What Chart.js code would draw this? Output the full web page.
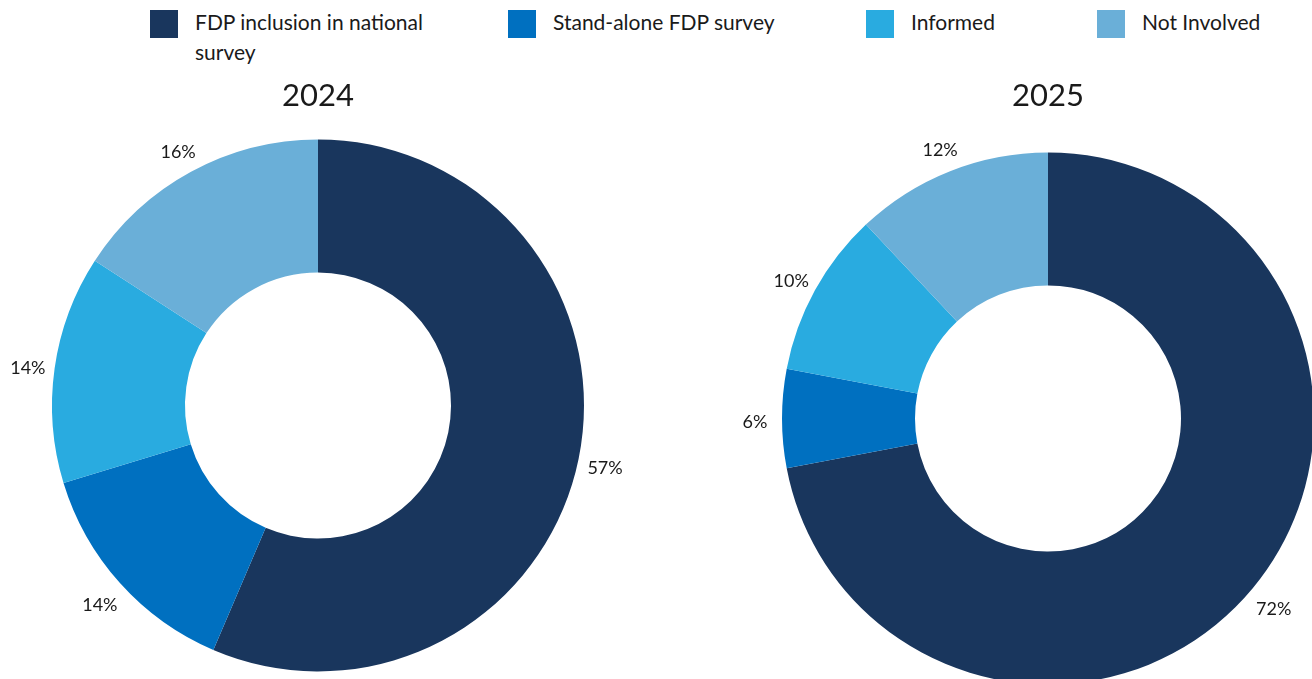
<!DOCTYPE html>
<html>
<head>
<meta charset="utf-8">
<script src="https://cdn.jsdelivr.net/npm/chart.js@4/dist/chart.umd.min.js"></script>
<style>
  html, body { margin: 0; padding: 0; background: #fff; }
  body { width: 1312px; height: 679px; position: relative; overflow: hidden; font-family: Lato, sans-serif; }
  .legend-item { position: absolute; top: 10px; }
  .legend-item .box { position: absolute; left: 0; top: 0; width: 28px; height: 28px; }
  .legend-item .txt { position: absolute; left: 45px; top: -3px; font-size: 21px; line-height: 30px; color: #1a1a1a; }
  .chart-box { position: absolute; top: 0; width: 636px; }
</style>
</head>
<body>
<div id="legend"></div>
<div class="chart-box" style="left:0;height:679px"><canvas id="chart2024"></canvas></div>
<div class="chart-box" style="left:730px;height:700px"><canvas id="chart2025"></canvas></div>
<script>
  const categories = ['FDP inclusion in national survey', 'Stand-alone FDP survey', 'Informed', 'Not Involved'];
  const colors = ['#19365d', '#0070c0', '#29abe0', '#6aafd8'];
  const values2024 = [57, 14, 14, 16];
  const values2025 = [72, 6, 10, 12];

  // html legend shared by both charts
  const legendX = [150, 508, 866, 1097];
  const legendWidth = [250, 300, 200, 200];
  const legend = document.getElementById('legend');
  categories.forEach(function(name, i) {
    const item = document.createElement('div');
    item.className = 'legend-item';
    item.style.left = legendX[i] + 'px';
    item.innerHTML = '<div class="box" style="background:' + colors[i] + '"></div>' +
      '<div class="txt" style="width:' + legendWidth[i] + 'px">' + name + '</div>';
    legend.appendChild(item);
  });

  // percentage labels outside the ring
  const outsideLabels = {
    id: 'outsideLabels',
    afterDatasetsDraw(chart) {
      const ctx = chart.ctx;
      const meta = chart.getDatasetMeta(0);
      const data = chart.data.datasets[0].data;
      ctx.save();
      ctx.font = '18px Lato, sans-serif';
      ctx.fillStyle = '#1a1a1a';
      ctx.textAlign = 'center';
      ctx.textBaseline = 'middle';
      meta.data.forEach(function(arc, i) {
        const mid = (arc.startAngle + arc.endAngle) / 2;
        const r = arc.outerRadius + 27;
        ctx.fillText(data[i] + '%', arc.x + Math.cos(mid) * r, arc.y + Math.sin(mid) * r + 4);
      });
      ctx.restore();
    }
  };

  function makeChart(id, year, values, titleBottom, padBottom) {
    return new Chart(document.getElementById(id), {
      type: 'doughnut',
      data: {
        labels: categories,
        datasets: [{ data: values, backgroundColor: colors, borderWidth: 0, hoverOffset: 0 }]
      },
      options: {
        responsive: true,
        maintainAspectRatio: false,
        animation: false,
        cutout: '50%',
        layout: { padding: { top: 77, bottom: padBottom, left: 52, right: 52 } },
        plugins: {
          legend: { display: false },
          tooltip: { enabled: false },
          title: {
            display: true,
            text: year,
            color: '#1a1a1a',
            font: { family: 'Lato, sans-serif', size: 31, weight: 'normal' },
            padding: { top: 0, bottom: titleBottom }
          }
        }
      },
      plugins: [outsideLabels]
    });
  }

  makeChart('chart2024', '2024', values2024, 25.3, 7.5);
  makeChart('chart2025', '2025', values2025, 38.3, 15.5);
</script>
</body>
</html>
